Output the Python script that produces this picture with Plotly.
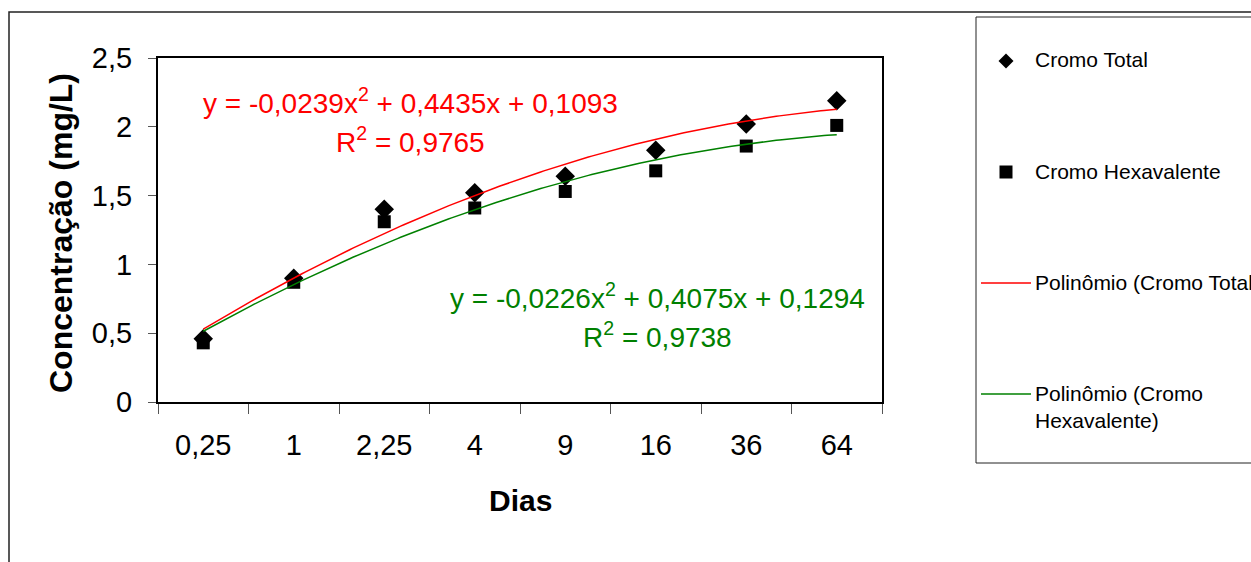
import numpy as np
import plotly.graph_objects as go

# ---------------- data ----------------
dias_labels = ["0,25", "1", "2,25", "4", "9", "16", "36", "64"]
cromo_total = [0.46, 0.90, 1.40, 1.52, 1.64, 1.83, 2.02, 2.19]
cromo_hexavalente = [0.43, 0.87, 1.31, 1.41, 1.53, 1.68, 1.86, 2.01]
coef_total = [-0.0239, 0.4435, 0.1093]       # a, b, c  (y = a x^2 + b x + c)
coef_hexa = [-0.0226, 0.4075, 0.1294]
eq_total = ["y = -0,0239x<sup>2</sup> + 0,4435x + 0,1093", "R<sup>2</sup> = 0,9765"]
eq_hexa = ["y = -0,0226x<sup>2</sup> + 0,4075x + 0,1294", "R<sup>2</sup> = 0,9738"]
legend_names = ["Cromo Total", "Cromo Hexavalente", "Polinômio (Cromo Total)",
                "Polinômio (Cromo<br>Hexavalente)"]

# ---------------- layout geometry ----------------
W, H = 1251, 562
L, R, T, B = 158, 882, 58, 402   # plot area in px
FONT = "Liberation Sans, Arial, sans-serif"


def px(x):
    return (x - L) / (R - L)


def py(y):
    return (B - y) / (B - T)


xi = list(range(1, len(dias_labels) + 1))
xs = np.linspace(xi[0], xi[-1], 200)
fit_total = np.polyval(coef_total, xs)
fit_hexa = np.polyval(coef_hexa, xs)

fig = go.Figure()
fig.add_trace(go.Scatter(x=xi, y=cromo_total, mode="markers", name="Cromo Total",
                         marker=dict(symbol="diamond", size=15, color="black"),
                         showlegend=False))
fig.add_trace(go.Scatter(x=xi, y=cromo_hexavalente, mode="markers", name="Cromo Hexavalente",
                         marker=dict(symbol="square", size=13, color="black"),
                         showlegend=False))
fig.add_trace(go.Scatter(x=xs, y=fit_total, mode="lines", name="Polinômio (Cromo Total)",
                         line=dict(color="#ff0000", width=1.5), showlegend=False))
fig.add_trace(go.Scatter(x=xs, y=fit_hexa, mode="lines", name="Polinômio (Cromo Hexavalente)",
                         line=dict(color="#008000", width=1.5), showlegend=False))

shapes = []
annotations = []

# chart area border and legend box
shapes.append(dict(type="rect", xref="paper", yref="paper", x0=px(9), x1=px(1265),
                   y0=py(12), y1=py(575), line=dict(color="#222", width=1.5),
                   fillcolor="rgba(0,0,0,0)", layer="below"))
shapes.append(dict(type="rect", xref="paper", yref="paper", x0=px(976), x1=px(1265),
                   y0=py(17), y1=py(463), line=dict(color="#222", width=1),
                   fillcolor="rgba(0,0,0,0)", layer="below"))

# legend swatches
cx, cy = 1006, 61
d = 7.5
shapes.append(dict(type="path", xref="paper", yref="paper",
                   path=f"M {px(cx)},{py(cy-d)} L {px(cx+d)},{py(cy)} L {px(cx)},{py(cy+d)} L {px(cx-d)},{py(cy)} Z",
                   fillcolor="black", line=dict(color="black", width=0)))
cx, cy = 1006, 172
s = 6.5
shapes.append(dict(type="rect", xref="paper", yref="paper", x0=px(cx - s), x1=px(cx + s),
                   y0=py(cy + s), y1=py(cy - s), fillcolor="black", line=dict(width=0)))
shapes.append(dict(type="line", xref="paper", yref="paper", x0=px(981), x1=px(1031),
                   y0=py(283), y1=py(283), line=dict(color="#ff0000", width=1.5)))
shapes.append(dict(type="line", xref="paper", yref="paper", x0=px(981), x1=px(1031),
                   y0=py(394), y1=py(394), line=dict(color="#008000", width=1.5)))

for name, yy in zip(legend_names, [60, 172, 283, 394]):
    annotations.append(dict(xref="paper", yref="paper", x=px(1033), y=py(yy - 14),
                            text=name, showarrow=False, xanchor="left", yanchor="top",
                            align="left", font=dict(family=FONT, size=21, color="black")))

# equations
for txt, (xx, yy), col in [(eq_total[0], (410, 101), "#ff0000"),
                           (eq_total[1], (410, 140), "#ff0000"),
                           (eq_hexa[0], (657, 296), "#008000"),
                           (eq_hexa[1], (657, 335), "#008000")]:
    annotations.append(dict(xref="paper", yref="paper", x=px(xx), y=py(yy), text=txt,
                            showarrow=False, xanchor="center", yanchor="middle",
                            font=dict(family=FONT, size=28, color=col)))

# axis titles
annotations.append(dict(xref="paper", yref="paper", x=px(520), y=py(500), text="<b>Dias</b>",
                        showarrow=False, xanchor="center", yanchor="middle",
                        font=dict(family=FONT, size=30, color="black")))
annotations.append(dict(xref="paper", yref="paper", x=px(61), y=py(233),
                        text="<b>Concentração (mg/L)</b>", textangle=-90,
                        showarrow=False, xanchor="center", yanchor="middle",
                        font=dict(family=FONT, size=32, color="black")))

fig.update_layout(
    width=W, height=H,
    margin=dict(l=L, r=W - R, t=T, b=H - B, autoexpand=False),
    paper_bgcolor="white", plot_bgcolor="white",
    separators=", ",
    font=dict(family=FONT, color="black"),
    shapes=shapes, annotations=annotations,
    showlegend=False,
)
fig.update_xaxes(range=[0.5, 8.5], tickmode="array", tickvals=xi, ticktext=dias_labels,
                 ticks="", showgrid=False, zeroline=False,
                 showline=True, linecolor="black", linewidth=2, mirror=True,
                 tickfont=dict(family=FONT, size=29, color="black"),
                 ticklabelstandoff=16,
                 minor=dict(tickmode="linear", tick0=0.5, dtick=1, ticks="outside",
                            ticklen=10, tickcolor="#555", tickwidth=1, showgrid=False))
fig.update_yaxes(range=[0, 2.5], tickmode="linear", tick0=0, dtick=0.5,
                 ticks="outside", ticklen=8, tickcolor="#555", tickwidth=1,
                 showgrid=False, zeroline=False,
                 showline=True, linecolor="black", linewidth=2, mirror=True,
                 tickfont=dict(family=FONT, size=29, color="black"),
                 ticklabelstandoff=10)

fig.write_html("out.html", config={"displayModeBar": False},
               post_script="document.body.style.margin='0px';document.body.style.overflow='hidden';")
